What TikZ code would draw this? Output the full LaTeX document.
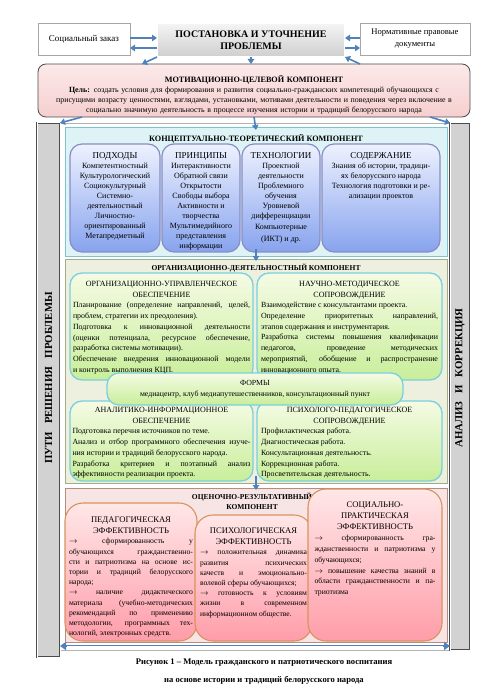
\documentclass[tikz,border=0pt]{standalone}
\usepackage{fontspec}
\setmainfont{Liberation Serif}
\usetikzlibrary{arrows.meta,calc}
\definecolor{arrblue}{HTML}{4F81BD}
\definecolor{motA}{HTML}{FCE9E9}
\definecolor{motB}{HTML}{F6CFCF}
\definecolor{cpfill}{HTML}{DDF3F6}
\definecolor{cpdraw}{HTML}{7EC4CF}
\definecolor{blA}{HTML}{EEF2FF}
\definecolor{blB}{HTML}{87A3EE}
\definecolor{bldraw}{HTML}{8A8CC4}
\definecolor{opfill}{HTML}{EEF0DF}
\definecolor{opdraw}{HTML}{A3AC86}
\definecolor{grA}{HTML}{F5FBE4}
\definecolor{grB}{HTML}{C8EE9A}
\definecolor{grdraw}{HTML}{7CCFDD}
\definecolor{epfill}{HTML}{F7E4E4}
\definecolor{epdraw}{HTML}{B58C80}
\definecolor{pkA}{HTML}{FFE7E7}
\definecolor{pkB}{HTML}{FF9DA9}
\definecolor{pkdraw}{HTML}{D9925E}
\tikzset{
  plainbox/.style={draw=gray!70, fill=white, inner sep=0pt, outer sep=0pt},
  mainbox/.style={draw=black!75, double=white, double distance=1.2pt, line width=0.6pt, top color=gray!8, bottom color=gray!38, inner sep=0pt, outer sep=0pt},
  barbox/.style={draw=black!70, double=white, double distance=1pt, line width=0.5pt, fill=gray!35, inner sep=0pt, outer sep=0pt},
  motbox/.style={draw=black!70, line width=0.8pt, rounded corners=8pt, top color=motA, bottom color=motB, inner sep=0pt, outer sep=0pt},
  framebox/.style={draw=gray!60, line width=0.4pt},
  cpan/.style={draw=cpdraw, line width=1pt, fill=cpfill, inner sep=0pt, outer sep=0pt},
  bluebox/.style={draw=bldraw, line width=1.2pt, rounded corners=12pt, top color=blA, bottom color=blB, inner sep=0pt, outer sep=0pt},
  opan/.style={draw=opdraw, line width=1pt, fill=opfill, inner sep=0pt, outer sep=0pt},
  greenbox/.style={draw=grdraw, line width=1.3pt, rounded corners=12pt, top color=grA, bottom color=grB, inner sep=0pt, outer sep=0pt},
  epan/.style={draw=epdraw, line width=1pt, fill=epfill, inner sep=0pt, outer sep=0pt},
  pinkbox/.style={draw=pkdraw, line width=1.1pt, rounded corners=18pt, top color=pkA, bottom color=pkB, inner sep=0pt, outer sep=0pt},
  barr/.style={draw=arrblue, line width=1.6pt, -{Triangle[width=6.5pt,length=5pt]}},
  ttl/.style={inner sep=0pt, font=\fontsize{7.5}{10}\selectfont\bfseries, align=center},
  ctxt/.style={inner sep=0pt, font=\fontsize{8}{10}\selectfont, align=center},
  jtxt/.style={inner sep=0pt, align=justify, font=\fontsize{7.9}{10.7}\selectfont},
  vtxt/.style={inner sep=0pt, font=\fontsize{10.8}{12}\selectfont\bfseries, rotate=90},
}
\begin{document}
\begin{tikzpicture}[x=1pt,y=-1pt]
\useasboundingbox (0,0) rectangle (494,700);
\fill[white] (0,0) rectangle (494,700);
% top row
\node[plainbox, minimum width=92pt, minimum height=32pt] (soc) at (84,39) {};
\node[inner sep=0pt, font=\fontsize{9}{10}\selectfont] (socT) at (soc.center) {Социальный заказ};
\node[mainbox, minimum width=188pt, minimum height=34pt] (main) at (251,40) {};
\node[inner sep=0pt, font=\fontsize{10}{12.5}\selectfont\bfseries, align=center] (mainT) at (main.center) {ПОСТАНОВКА И УТОЧНЕНИЕ\\ПРОБЛЕМЫ};
\node[plainbox, minimum width=110pt, minimum height=32pt] (norm) at (415,39) {};
\node[inner sep=0pt, font=\fontsize{8.6}{12}\selectfont, align=center] (normT) at (norm.center) {Нормативные правовые\\документы};
% motivational
\node[motbox, minimum width=432pt, minimum height=53pt] (motiv) at (254,90.5) {};
\node[inner sep=0pt, text width=450pt, align=center, font=\fontsize{7.9}{10}\selectfont, anchor=north] (motivT) at (254,75) {{\fontsize{8.2}{10}\selectfont\bfseries МОТИВАЦИОННО-ЦЕЛЕВОЙ КОМПОНЕНТ}\\\textbf{Цель:} создать условия для формирования и развития социально-гражданских компетенций обучающихся с\\присущими возрасту ценностями, взглядами, установками, мотивами деятельности и поведения через включение в\\социально значимую деятельность в процессе изучения истории и традиций белорусского народа};
% bars and frame
\node[framebox, minimum width=390pt, minimum height=527pt, inner sep=0pt] (frame) at (255,386.5) {};
\node[barbox, minimum width=23pt, minimum height=534pt] (lbar) at (48.5,390) {};
\node[barbox, minimum width=20pt, minimum height=527pt] (rbar) at (460,386.5) {};
\node[vtxt] (lbarT) at (48.5,378) {ПУТИ\ \ \ РЕШЕНИЯ\ \ \ ПРОБЛЕМЫ};
\node[vtxt] (rbarT) at (460,378) {АНАЛИЗ\ \ \ И\ \ \ КОРРЕКЦИЯ};
% conceptual
\node[cpan, minimum width=382pt, minimum height=128pt] (cpanel) at (256,192) {};
\node[ttl, anchor=north, font=\fontsize{8.2}{10}\selectfont\bfseries] (cpanelT) at (256,134) {КОНЦЕПТУАЛЬНО-ТЕОРЕТИЧЕСКИЙ КОМПОНЕНТ};
\node[bluebox, minimum width=90pt, minimum height=108pt] (podh) at (115,198) {};
\node[bluebox, minimum width=78pt, minimum height=108pt] (princ) at (201,198) {};
\node[bluebox, minimum width=78pt, minimum height=108pt] (tech) at (281,198) {};
\node[bluebox, minimum width=118pt, minimum height=108pt] (sod) at (381,198) {};
\node[ctxt, anchor=north] (podhT) at (115,152) {{\fontsize{9}{10}\selectfont ПОДХОДЫ}\\Компетентностный\\Культурологический\\Социокультурный\\Системно-\\деятельностный\\Личностно-\\ориентированный\\Метапредметный};
\node[ctxt, anchor=north] (princT) at (201,152) {{\fontsize{9}{10}\selectfont ПРИНЦИПЫ}\\Интерактивности\\Обратной связи\\Открытости\\Свободы выбора\\Активности и\\творчества\\Мультимедийного\\представления\\информации};
\node[ctxt, anchor=north] (techT) at (281,152) {{\fontsize{9}{10}\selectfont ТЕХНОЛОГИИ}\\Проектной\\деятельности\\Проблемного\\обучения\\Уровневой\\дифференциации\\[1.5pt]Компьютерные\\[1.5pt](ИКТ) и др.};
\node[ctxt, anchor=north] (sodT) at (381,152) {{\fontsize{9}{10}\selectfont СОДЕРЖАНИЕ}\\Знания об истории, традици-\\ях белорусского народа\\Технология подготовки и ре-\\ализации проектов};
% organisational
\node[opan, minimum width=382pt, minimum height=224pt] (opanel) at (256,371) {};
\node[ttl, anchor=north] (opanelT) at (256,264) {ОРГАНИЗАЦИОННО-ДЕЯТЕЛЬНОСТНЫЙ КОМПОНЕНТ};
\node[greenbox, minimum width=183pt, minimum height=107pt] (orgTL) at (161.5,326.5) {};
\node[greenbox, minimum width=185pt, minimum height=107pt] (orgTR) at (349.5,326.5) {};
\node[greenbox, minimum width=183pt, minimum height=80pt] (orgBL) at (161.5,441) {};
\node[greenbox, minimum width=185pt, minimum height=80pt] (orgBR) at (349.5,441) {};
\node[greenbox, minimum width=296pt, minimum height=32pt] (forms) at (255,389) {};
\node[jtxt, text width=177pt, anchor=north] (orgTLT) at (161.5,281) {{\centering\fontsize{8}{10.7}\selectfont ОРГАНИЗАЦИОННО-УПРАВЛЕНЧЕСКОЕ\\ОБЕСПЕЧЕНИЕ\par}Планирование (определение направлений, целей,\linebreak проблем, стратегии их преодоления).\\Подготовка к инновационной деятельности\linebreak (оценки потенциала, ресурсное обеспечение,\linebreak разработка системы мотивации).\\Обеспечение внедрения инновационной модели\linebreak и контроль выполнения КЦП.};
\node[jtxt, text width=177pt, anchor=north] (orgTRT) at (349.5,281) {{\centering\fontsize{8}{10.7}\selectfont НАУЧНО-МЕТОДИЧЕСКОЕ\\СОПРОВОЖДЕНИЕ\par}Взаимодействие с консультантами проекта.\\Определение приоритетных направлений,\linebreak этапов содержания и инструментария.\\Разработка системы повышения квалификации\linebreak педагогов, проведение методических\linebreak мероприятий, обобщение и распространение\linebreak инновационного опыта.};
\node[inner sep=0pt, align=center, font=\fontsize{7.8}{11.5}\selectfont, anchor=north] (formsT) at (255,380) {ФОРМЫ\\медиацентр, клуб медиапутешественников, консультационный пункт};
\node[jtxt, text width=178pt, anchor=north] (orgBLT) at (161.5,407) {{\centering\fontsize{8}{10.7}\selectfont АНАЛИТИКО-ИНФОРМАЦИОННОЕ\\ОБЕСПЕЧЕНИЕ\par}Подготовка перечня источников по теме.\\Анализ и отбор программного обеспечения изуче-\linebreak ния истории и традиций белорусского народа.\\Разработка критериев и поэтапный анализ\linebreak эффективности реализации проекта.};
\node[jtxt, text width=177pt, anchor=north] (orgBRT) at (349.5,407) {{\centering\fontsize{8}{10.7}\selectfont ПСИХОЛОГО-ПЕДАГОГИЧЕСКОЕ\\СОПРОВОЖДЕНИЕ\par}Профилактическая работа.\\Диагностическая работа.\\Консультационная деятельность.\\Коррекционная работа.\\Просветительская деятельность.};
% evaluation
\node[epan, minimum width=382pt, minimum height=154pt] (epanel) at (256,565) {};
\node[ttl, anchor=north] (epanelT) at (252,493) {ОЦЕНОЧНО-РЕЗУЛЬТАТИВНЫЙ\\КОМПОНЕНТ};
\node[pinkbox, minimum width=132pt, minimum height=138pt] (ped) at (131,572) {};
\node[pinkbox, minimum width=117pt, minimum height=126pt] (psy) at (253.5,578) {};
\node[pinkbox, minimum width=134pt, minimum height=152pt] (socb) at (375,565) {};
\node[jtxt, text width=124pt, anchor=north, font=\fontsize{7.7}{10.2}\selectfont] (pedT) at (131,517) {{\centering\fontsize{8.6}{10.8}\selectfont ПЕДАГОГИЧЕСКАЯ\\ЭФФЕКТИВНОСТЬ\par}$\rightarrow$ сформированность у\linebreak обучающихся гражданственно-\linebreak сти и патриотизма на основе ис-\linebreak тории и традиций белорусского\linebreak народа;\\$\rightarrow$ наличие дидактического\linebreak материала (учебно-методических\linebreak рекомендаций по применению\linebreak методологии, программных тех-\linebreak нологий, электронных средств.};
\node[jtxt, text width=107pt, anchor=north, font=\fontsize{7.6}{10.2}\selectfont] (psyT) at (253.5,528) {{\centering\fontsize{8.6}{10.8}\selectfont ПСИХОЛОГИЧЕСКАЯ\\ЭФФЕКТИВНОСТЬ\par}$\rightarrow$ положительная динамика\linebreak развития психических\linebreak качеств и эмоционально-\linebreak волевой сферы обучающихся;\\$\rightarrow$ готовность к условиям\linebreak жизни в современном\linebreak информационном обществе.};
\node[jtxt, text width=121pt, anchor=north, font=\fontsize{7.7}{10.9}\selectfont] (socbT) at (375,502) {{\centering\fontsize{8.6}{10.8}\selectfont СОЦИАЛЬНО-\\ПРАКТИЧЕСКАЯ\\ЭФФЕКТИВНОСТЬ\par}$\rightarrow$ сформированность гра-\linebreak жданственности и патриотизма у\linebreak обучающихся;\\$\rightarrow$ повышение качества знаний в\linebreak области гражданственности и па-\linebreak триотизма};
% caption
\node[inner sep=0pt, align=center, font=\fontsize{8.6}{18}\selectfont\bfseries, anchor=north] (cap) at (264,659) {Рисунок 1 – Модель гражданского и патриотического воспитания\\на основе истории и традиций белорусского народа};
% arrows
\draw[barr] ([yshift=1pt]soc.east) -- ([yshift=1pt]soc.east -| main.west);
\draw[barr] ([yshift=-9pt]soc.east -| main.west) -- ([yshift=-9pt]soc.east);
\draw[barr] ([yshift=1pt]norm.west) -- ([yshift=1pt]norm.west -| main.east);
\draw[barr] ([yshift=-9pt]norm.west -| main.east) -- ([yshift=-9pt]norm.west);
\draw[barr] (main.south west) -- ([xshift=104pt]motiv.north west);
\draw[barr] (main.south) -- (main.south |- motiv.north);
\draw[barr] ([xshift=-110pt]motiv.north east) -- (main.south east);
\draw[barr] ([xshift=44pt]motiv.south west) -- (lbar.north east);
\draw[barr] ([xshift=-40pt]motiv.south east) -- (rbar.north west);
\draw[barr] (motiv.south) -- ([yshift=-2pt]cpanel.north);
\draw[barr] ([yshift=7pt]cpanel.south) -- ([yshift=-2pt]opanel.north);
\draw[barr] ([yshift=7pt]opanel.south) -- ([yshift=-2pt]epanel.north);
\draw[draw=arrblue, line width=2.6pt, {Triangle[width=8pt,length=6pt]}-{Triangle[width=8pt,length=6pt]}] ([yshift=-4pt]epanel.south -| lbar.east) -- ([yshift=-4pt]epanel.south -| rbar.west);
\draw[white, line width=0.9pt, shorten <=7pt, shorten >=7pt] ([yshift=-4pt]epanel.south -| lbar.east) -- ([yshift=-4pt]epanel.south -| rbar.west);
\end{tikzpicture}
\end{document}
